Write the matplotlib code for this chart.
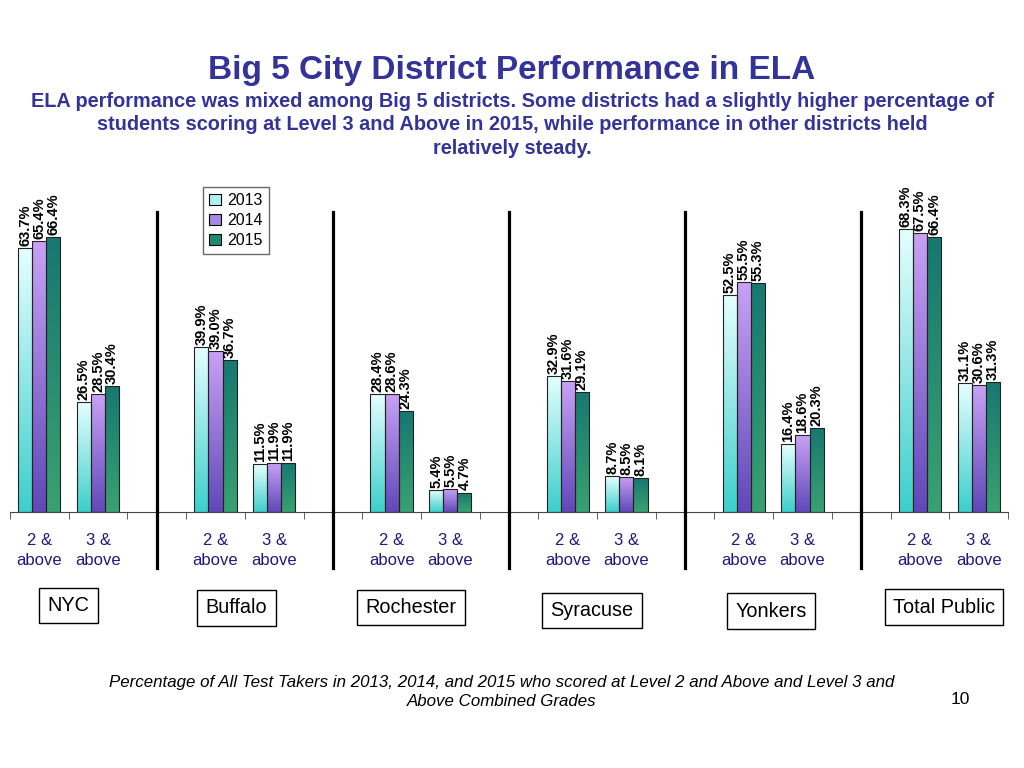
""" Big 5 City District Performance in ELA """

import numpy as np
import matplotlib
matplotlib.use("Agg")
import matplotlib.pyplot as plt
from matplotlib import font_manager
from matplotlib.colors import LinearSegmentedColormap
from matplotlib.patches import Patch

# data
districts = ["NYC", "Buffalo", "Rochester", "Syracuse", "Yonkers", "Total Public"]
levels = ["2 &\nabove", "3 &\nabove"]
years = ["2013", "2014", "2015"]
pct_2013 = [63.7, 26.5, 39.9, 11.5, 28.4, 5.4, 32.9, 8.7, 52.5, 16.4, 68.3, 31.1]
pct_2014 = [65.4, 28.5, 39.0, 11.9, 28.6, 5.5, 31.6, 8.5, 55.5, 18.6, 67.5, 30.6]
pct_2015 = [66.4, 30.4, 36.7, 11.9, 24.3, 4.7, 29.1, 8.1, 55.3, 20.3, 66.4, 31.3]

names = {f.name for f in font_manager.fontManager.ttflist}
NARROW = ["Liberation Sans Narrow", "Liberation Sans", "DejaVu Sans"]
if "Liberation Sans Narrow" not in names:
    NARROW = ["Liberation Sans", "DejaVu Sans"]
plt.rcParams["font.family"] = ["Liberation Sans", "DejaVu Sans"]

BLUE = "#333399"
NAVY = "#1c1c7c"

# gradient (top, bottom) per year
grads = [("#e6ffff", "#3ccfcb"), ("#c9a2f5", "#6048b8"), ("#17786f", "#3aa172")]
legend_colors = ["#aef0ee", "#a488e6", "#21876f"]

fig = plt.figure(figsize=(10.24, 7.68), dpi=100)
ax = fig.add_axes([10 / 1024, 256 / 768, 998 / 1024, 331 / 768])

# each district gets 2 slots, plus one empty slot between districts
slot = []
for d in range(len(districts)):
    slot += [d * 3, d * 3 + 1]
slot = np.array(slot) + 0.5

w = 0.24
values = [pct_2013, pct_2014, pct_2015]
for i, vals in enumerate(values):
    xs = slot + (i - 1) * w
    bars = ax.bar(xs, vals, width=w, color="none", edgecolor="#222222",
                  linewidth=0.8, zorder=3)
    cmap = LinearSegmentedColormap.from_list("g%d" % i, [grads[i][1], grads[i][0]])
    grad = np.linspace(0, 1, 256).reshape(-1, 1)
    for b, v in zip(bars, vals):
        x0 = b.get_x()
        im = ax.imshow(grad, cmap=cmap, aspect="auto", origin="lower",
                       extent=[x0, x0 + w, 0, v], zorder=2)
        im.set_clip_path(b)
        ax.text(x0 + w / 2, v + 0.5, "%.1f%%" % v, rotation=90, ha="center",
                va="bottom", fontsize=10.5, fontweight="bold", color="black")

ax.set_xlim(0, 17)
ax.set_ylim(0, 80)
for s in ["left", "right", "top"]:
    ax.spines[s].set_visible(False)
ax.spines["bottom"].set_color("#444444")
ax.set_yticks([])
ax.set_xticks(np.arange(0, 18), minor=True)
ax.set_xticks(slot)
ax.set_xticklabels(levels * len(districts), fontsize=12, color=NAVY,
                   linespacing=1.45)
ax.tick_params(axis="x", which="major", length=0, pad=15)
ax.tick_params(axis="x", which="minor", length=5, color="#444444")

# separators between districts
for d in range(len(districts) - 1):
    x = d * 3 + 2.5
    ax.plot([x, x], [-13.5, 72.5], color="black", lw=2.3, clip_on=False, zorder=4)

# district name boxes
box_dx = [0.0, -0.14, -0.17, -0.09, -0.03, -0.09]
box_dy = [-22.6, -23.2, -23.1, -23.8, -24.0, -23.0]
for d, name in enumerate(districts):
    ax.text(d * 3 + 1 + box_dx[d], box_dy[d], name, ha="center", va="center",
            fontsize=14.3,
            bbox=dict(boxstyle="square,pad=0.42", fc="white", ec="black", lw=1))

# legend
handles = [Patch(facecolor=c, edgecolor="black", lw=0.8) for c in legend_colors]
fig.legend(handles, years, loc="upper left", bbox_to_anchor=(203 / 1024, 1 - 187 / 768),
           fontsize=11.5, frameon=True, fancybox=False, edgecolor="#444444",
           handlelength=0.7, handleheight=0.7, handletextpad=0.4,
           labelspacing=0.3, borderpad=0.4, borderaxespad=0)

fig.text(0.5, 1 - 70 / 768, "Big 5 City District Performance in ELA",
         ha="center", va="center", fontsize=24, fontweight="bold", color=BLUE,
         family=NARROW)
fig.text(0.5, 1 - 125 / 768,
         "ELA performance was mixed among Big 5 districts. Some districts had a slightly higher percentage of\n"
         "students scoring at Level 3 and Above in 2015, while performance in other districts held\n"
         "relatively steady.",
         ha="center", va="center", fontsize=14.3, fontweight="bold", color=BLUE,
         family=NARROW, linespacing=1.3)
fig.text(0.49, 1 - 692 / 768,
         "Percentage of All Test Takers in 2013, 2014, and 2015 who scored at Level 2 and Above and Level 3 and\n"
         "Above Combined Grades",
         ha="center", va="center", fontsize=12.2, style="italic", family=NARROW,
         linespacing=1.25)
fig.text(960 / 1024, 1 - 700 / 768, "10", ha="center", va="center", fontsize=12.5)

fig.savefig("out.png", dpi=100)
